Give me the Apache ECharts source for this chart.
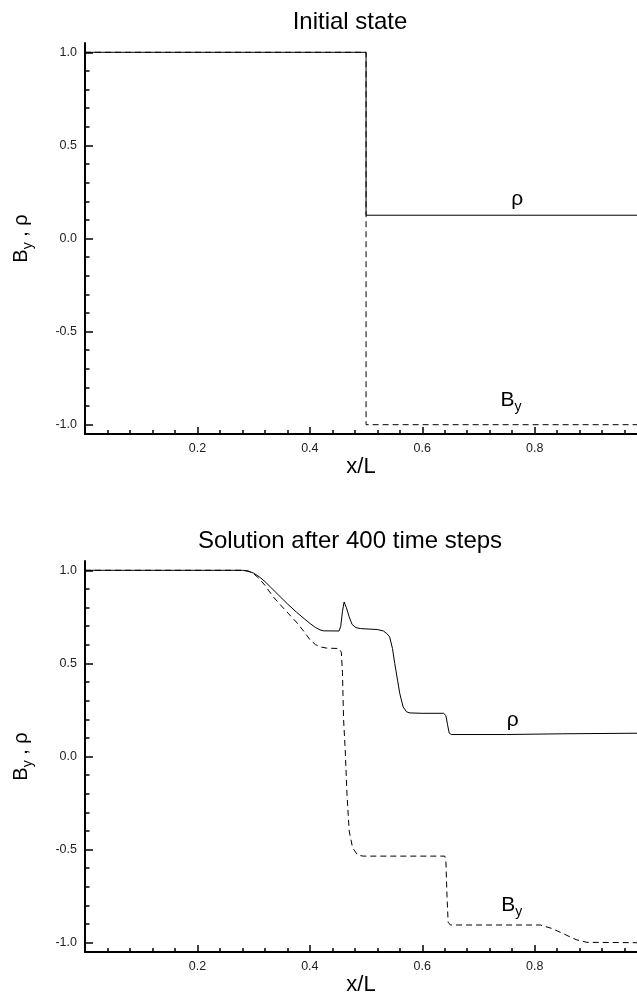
<!DOCTYPE html>
<html>
<head>
<meta charset="utf-8">
<script src="https://cdn.jsdelivr.net/npm/echarts@6/dist/echarts.min.js"></script>
<style>
  html, body { margin: 0; padding: 0; background: #fff; }
  #chart { width: 637px; height: 993px; }
</style>
</head>
<body>
<div id="chart"></div>
<script>
// ---- data ----
const titles = ['Initial state', 'Solution after 400 time steps'];

// Initial state
const xRhoTop = [0.0, 0.5, 0.5, 0.982];
const rhoTop  = [1.0, 1.0, 0.125, 0.125];
const xByTop  = [0.0, 0.5, 0.5, 0.982];
const byTop   = [1.0, 1.0, -1.0, -1.0];

// After 400 time steps
const xRhoBot = [0.0, 0.28, 0.29, 0.30, 0.31, 0.32, 0.33, 0.345, 0.36, 0.376, 0.39, 0.40, 0.41, 0.418, 0.424, 0.452,
                 0.455, 0.458, 0.461, 0.465, 0.47, 0.475, 0.482, 0.49, 0.52, 0.531, 0.537, 0.542, 0.547, 0.551,
                 0.556, 0.56, 0.566, 0.572, 0.578, 0.60, 0.638, 0.642, 0.645, 0.648, 0.652, 0.75, 0.85, 0.982];
const rhoBot  = [1.0, 1.0, 0.996, 0.985, 0.965, 0.94, 0.91, 0.865, 0.82, 0.776, 0.74, 0.715, 0.693, 0.68, 0.675, 0.674,
                 0.70, 0.78, 0.83, 0.80, 0.75, 0.71, 0.692, 0.687, 0.682, 0.674, 0.66, 0.642, 0.58, 0.50,
                 0.41, 0.338, 0.266, 0.24, 0.234, 0.232, 0.232, 0.22, 0.17, 0.125, 0.118, 0.118, 0.122, 0.125];
const xByBot  = [0.0, 0.28, 0.29, 0.30, 0.31, 0.32, 0.335, 0.355, 0.376, 0.39, 0.40, 0.41, 0.418, 0.43, 0.452,
                 0.456, 0.458, 0.460, 0.463, 0.466, 0.470, 0.476, 0.485, 0.495, 0.640, 0.642, 0.644, 0.646,
                 0.650, 0.655, 0.81, 0.83, 0.85, 0.865, 0.875, 0.893, 0.982];
const byBot   = [1.0, 1.0, 0.996, 0.982, 0.955, 0.92, 0.857, 0.79, 0.722, 0.67, 0.628, 0.601, 0.589, 0.582, 0.58,
                 0.56, 0.45, 0.2, 0.03, -0.2, -0.4, -0.49, -0.53, -0.535, -0.535, -0.56, -0.75, -0.89,
                 -0.905, -0.905, -0.905, -0.923, -0.95, -0.972, -0.985, -0.998, -1.0];

// ticks
const xMajorTicks = [0.2, 0.4, 0.6, 0.8];
const xMinorTicks = [0.04, 0.08, 0.12, 0.16, 0.24, 0.28, 0.32, 0.36, 0.44, 0.48, 0.52, 0.56,
                     0.64, 0.68, 0.72, 0.76, 0.84, 0.88, 0.92, 0.96];
const yMajorTicks = [-1.0, -0.5, 0.0, 0.5, 1.0];
const yMinorTicks = [-0.9, -0.8, -0.7, -0.6, -0.4, -0.3, -0.2, -0.1, 0.1, 0.2, 0.3, 0.4, 0.6, 0.7, 0.8, 0.9];

const zip = (xs, ys) => xs.map((x, i) => [x, ys[i]]);

// ---- chart ----
const chart = echarts.init(document.getElementById('chart'), null, { renderer: 'canvas' });
const FONT = 'Liberation Sans, Arial, sans-serif';
const X_MIN = 0, X_MAX = 0.982, Y_MIN = -1.05, Y_MAX = 1.05;

function xAxes(gi) {
  return [
    {
      type: 'value', gridIndex: gi, position: 'bottom', min: X_MIN, max: X_MAX,
      axisLine: { show: true, onZero: false, lineStyle: { color: '#000', width: 2 } },
      axisTick: { show: true, inside: true, length: 7, customValues: xMajorTicks, lineStyle: { color: '#000', width: 1.5 } },
      axisLabel: { show: true, customValues: xMajorTicks, formatter: v => v.toFixed(1),
                   fontSize: 12.5, color: '#222', fontFamily: FONT, margin: 8 },
      splitLine: { show: false },
      name: 'x/L', nameLocation: 'middle', nameGap: 15,
      nameTextStyle: { fontSize: 22, color: '#000', fontFamily: FONT, verticalAlign: 'top' }
    },
    {
      type: 'value', gridIndex: gi, position: 'bottom', min: X_MIN, max: X_MAX,
      axisLine: { show: false, onZero: false },
      axisTick: { show: true, inside: true, length: 4, customValues: xMinorTicks, lineStyle: { color: '#000', width: 1.5 } },
      axisLabel: { show: false },
      splitLine: { show: false }
    }
  ];
}

const nameRich = {
  b: { fontSize: 20, lineHeight: 24, fontFamily: FONT, color: '#000' },
  s: { fontSize: 14, lineHeight: 24, padding: [14, 0, 0, 0], fontFamily: FONT, color: '#000' }
};

function yAxes(gi) {
  return [
    {
      type: 'value', gridIndex: gi, position: 'left', min: Y_MIN, max: Y_MAX,
      axisLine: { show: true, onZero: false, lineStyle: { color: '#000', width: 2 } },
      axisTick: { show: true, inside: true, length: 8, customValues: yMajorTicks, lineStyle: { color: '#000', width: 1.5 } },
      axisLabel: { show: true, customValues: yMajorTicks, formatter: v => v.toFixed(1),
                   fontSize: 12.5, color: '#222', fontFamily: FONT, margin: 8 },
      splitLine: { show: false },
      name: '{b|B}{s|y}{b| , ρ}', nameLocation: 'middle', nameGap: 52, nameRotate: 90,
      nameTextStyle: { fontFamily: FONT, color: '#000', rich: nameRich }
    },
    {
      type: 'value', gridIndex: gi, position: 'left', min: Y_MIN, max: Y_MAX,
      axisLine: { show: false, onZero: false },
      axisTick: { show: true, inside: true, length: 4.5, customValues: yMinorTicks, lineStyle: { color: '#000', width: 1.5 } },
      axisLabel: { show: false },
      splitLine: { show: false }
    }
  ];
}

const labelRich = {
  b: { fontSize: 21, lineHeight: 24, fontFamily: FONT, color: '#000' },
  s: { fontSize: 14, lineHeight: 24, padding: [14, 0, 0, 0], fontFamily: FONT, color: '#000' }
};

function markLabel(coord, text) {
  return {
    coord: coord, symbol: 'circle', symbolSize: 0,
    label: { show: true, position: 'inside', formatter: text, rich: labelRich,
             fontSize: 21, fontFamily: FONT, color: '#000' }
  };
}

function series(gi, xr, yr, xb, yb, rhoPos, byPos) {
  const xi = gi * 2, yi = gi * 2;
  return [
    {
      type: 'line', xAxisIndex: xi, yAxisIndex: yi, data: zip(xb, yb),
      showSymbol: false, symbol: 'none', silent: true, clip: true,
      lineStyle: { color: '#000', width: 1, type: [6, 4] },
      markPoint: { silent: true, animation: false, data: [markLabel(byPos, '{b|B}{s|y}')] }
    },
    {
      type: 'line', xAxisIndex: xi, yAxisIndex: yi, data: zip(xr, yr),
      showSymbol: false, symbol: 'none', silent: true, clip: true,
      lineStyle: { color: '#000', width: 1 },
      markPoint: { silent: true, animation: false, data: [markLabel(rhoPos, '{b|ρ}')] }
    }
  ];
}

const option = {
  backgroundColor: '#fff',
  animation: false,
  title: [
    { text: titles[0], left: 345, top: 5, textAlign: 'center',
      textStyle: { fontSize: 24, fontWeight: 'normal', color: '#000', fontFamily: FONT } },
    { text: titles[1], left: 345, top: 524, textAlign: 'center',
      textStyle: { fontSize: 24, fontWeight: 'normal', color: '#000', fontFamily: FONT } }
  ],
  grid: [
    { left: 85, right: 0, top: 43, height: 391, containLabel: false, outerBoundsMode: 'none' },
    { left: 85, right: 0, top: 561, height: 391, containLabel: false, outerBoundsMode: 'none' }
  ],
  xAxis: [...xAxes(0), ...xAxes(1)],
  yAxis: [...yAxes(0), ...yAxes(1)],
  series: [
    ...series(0, xRhoTop, rhoTop, xByTop, byTop, [0.769, 0.21], [0.758, -0.866]),
    ...series(1, xRhoBot, rhoBot, xByBot, byBot, [0.761, 0.195], [0.759, -0.80])
  ]
};
chart.setOption(option);
</script>
</body>
</html>
